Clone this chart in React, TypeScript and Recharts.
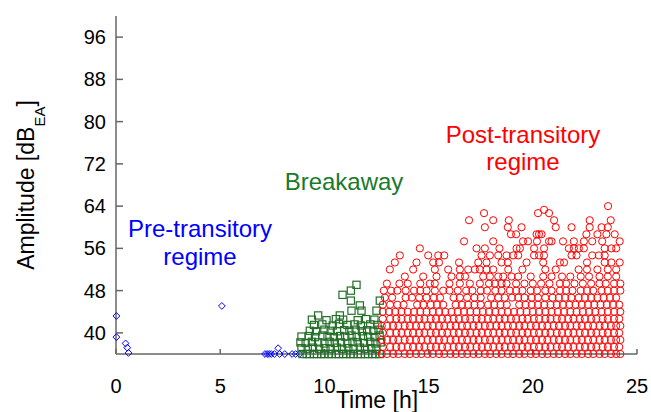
import { ScatterChart, Scatter, XAxis, YAxis } from 'recharts'

const xTicks = [0, 5, 10, 15, 20, 25]
const yTicks = [40, 48, 56, 64, 72, 80, 88, 96]

// Pre-transitory regime: [time h, amplitude dB]
const preTransitory = [
  [0.02, 43.2], [0.02, 39.2], [0.46, 38.0], [0.54, 37.2], [0.6, 36.2], [5.08, 45.1],
  [7.15, 36], [7.25, 36], [7.35, 36], [7.45, 36], [7.6, 36], [7.78, 37.1], [7.85, 36],
  [8.1, 36], [8.45, 36], [8.62, 36], [8.8, 36],
]

// Breakaway: [time h, amplitude dB]
const breakaway = [
  [8.95, 36], [9.15, 36], [9.3, 36], [9.5, 36], [9.65, 36], [9.85, 36], [10.0, 36], [10.2, 36],
  [10.35, 36], [10.55, 36], [10.7, 36], [10.9, 36], [11.05, 36], [11.25, 36], [11.4, 36], [11.6, 36],
  [11.75, 36], [11.95, 36], [12.1, 36], [12.3, 36], [12.45, 36], [12.65, 36],
  [8.9, 37.1], [9.2, 37.0], [9.45, 37.2], [9.75, 37.0], [10.05, 37.1], [10.3, 37.0], [10.6, 37.2],
  [10.85, 37.0], [11.15, 37.1], [11.4, 37.0], [11.7, 37.2], [11.95, 37.0], [12.25, 37.1], [12.5, 37.0],
  [8.85, 38.2], [9.1, 38.1], [9.4, 38.3], [9.7, 38.2], [10.0, 38.0], [10.25, 38.3], [10.5, 38.1],
  [10.8, 38.2], [11.1, 38.0], [11.35, 38.3], [11.6, 38.2], [11.9, 38.1], [12.2, 38.3], [12.45, 38.0], [12.7, 38.2],
  [8.9, 39.3], [9.25, 39.4], [9.55, 39.2], [9.9, 39.5], [10.15, 39.3], [10.45, 39.2], [10.75, 39.4],
  [11.0, 39.3], [11.3, 39.5], [11.55, 39.2], [11.85, 39.4], [12.1, 39.3], [12.4, 39.2], [12.65, 39.5],
  [9.3, 40.4], [9.6, 40.3], [10.0, 40.6], [10.3, 40.4], [10.6, 40.3], [10.95, 40.5], [11.2, 40.4],
  [11.5, 40.6], [11.8, 40.3], [12.05, 40.5], [12.35, 40.4], [12.6, 40.6],
  [9.5, 41.5], [9.9, 41.6], [10.4, 41.4], [10.7, 41.7], [11.1, 41.5], [11.45, 41.6], [11.75, 41.4],
  [12.2, 41.6], [12.55, 41.5],
  [9.4, 42.5], [10.1, 42.4], [10.55, 42.6], [10.9, 42.5], [11.6, 42.4], [12.0, 42.6], [12.4, 42.5],
  [9.7, 43.3], [10.74, 43.3], [11.3, 44.2], [11.78, 44.2], [12.5, 44.2], [11.7, 45.2],
  [11.27, 46.1], [12.66, 46.1], [10.87, 47.2], [11.27, 48.0], [11.54, 49.1],
]

// Post-transitory regime: amplitude levels and the times recorded at each level
const postLevels = [
  36, 37.33, 38.67, 40, 41.33, 42.67, 44, 45.33, 46.67, 48, 49.33, 50.67, 52, 53.33, 54.67,
  56, 57.33, 58.67, 60, 61.33, 62.67, 63.3, 64,
]
const denseRowA = [12.75, 13.0, 13.3, 13.55, 13.85, 14.1, 14.4, 14.65, 14.95, 15.2, 15.5, 15.75, 16.05, 16.3, 16.6, 16.85, 17.15, 17.4, 17.7, 17.95, 18.25, 18.5, 18.8, 19.05, 19.35, 19.6, 19.9, 20.15, 20.45, 20.7, 21.0, 21.25, 21.55, 21.8, 22.1, 22.35, 22.65, 22.9, 23.2, 23.45, 23.75, 24.0, 24.2]
const denseRowB = [12.8, 13.15, 13.45, 13.7, 14.0, 14.25, 14.55, 14.8, 15.1, 15.35, 15.65, 15.9, 16.2, 16.45, 16.75, 17.0, 17.3, 17.55, 17.85, 18.1, 18.4, 18.65, 18.95, 19.2, 19.5, 19.75, 20.05, 20.3, 20.6, 20.85, 21.15, 21.4, 21.7, 21.95, 22.25, 22.5, 22.8, 23.05, 23.35, 23.6, 23.9, 24.15]
const postTimes = [
  denseRowA,
  denseRowB,
  denseRowA,
  denseRowB,
  denseRowA,
  denseRowB,
  [12.8, 13.1, 13.4, 13.7, 14.0, 14.3, 14.6, 14.9, 15.2, 15.5, 15.8, 16.1, 16.4, 16.7, 17.0, 17.3, 17.6, 17.9, 18.2, 18.5, 18.8, 19.1, 19.4, 19.7, 20.0, 20.3, 20.6, 20.9, 21.2, 21.5, 21.8, 22.1, 22.4, 22.7, 23.0, 23.3, 23.6, 23.9, 24.2],
  [12.8, 13.15, 13.5, 13.8, 14.45, 14.75, 15.1, 15.4, 15.7, 16.3, 16.6, 16.9, 17.2, 17.5, 17.85, 18.15, 18.45, 18.75, 19.35, 19.65, 19.95, 20.25, 20.55, 20.85, 21.15, 21.45, 21.75, 22.05, 22.35, 22.65, 22.95, 23.25, 23.55, 23.85, 24.15],
  [12.9, 13.25, 13.9, 14.2, 14.55, 14.9, 15.25, 15.55, 16.2, 16.5, 16.85, 17.2, 17.5, 18.0, 18.35, 18.65, 19.0, 19.3, 19.6, 19.95, 20.25, 20.6, 20.95, 21.25, 21.55, 21.85, 22.2, 22.5, 22.8, 23.1, 23.4, 23.7, 24.0],
  [12.85, 13.2, 13.5, 13.9, 14.3, 14.6, 14.9, 15.3, 15.7, 16.0, 16.4, 16.8, 17.1, 17.5, 17.8, 18.2, 18.5, 18.9, 19.2, 19.5, 19.9, 20.2, 20.6, 20.9, 21.3, 21.6, 21.9, 22.3, 22.6, 22.9, 23.3, 23.6, 23.9, 24.2],
  [13.0, 13.6, 14.0, 14.6, 15.06, 15.3, 16.0, 16.5, 16.98, 17.46, 17.9, 18.18, 18.5, 18.74, 19.2, 19.6, 20.0, 20.4, 20.8, 21.3, 21.6, 22.0, 22.4, 22.8, 23.2, 23.5, 23.9, 24.2],
  [13.86, 14.74, 15.38, 16.1, 16.5, 16.75, 17.62, 17.94, 18.34, 18.58, 18.98, 19.3, 19.9, 20.5, 20.9, 21.4, 21.8, 22.3, 22.7, 23.2, 23.6, 24.0],
  [13.14, 14.26, 15.3, 15.94, 16.5, 16.9, 17.22, 17.46, 17.78, 18.1, 18.82, 19.5, 20.6, 21.1, 22.2, 22.6, 23.1, 23.6, 24.0],
  [13.38, 14.42, 15.22, 15.5, 16.46, 17.38, 17.78, 18.5, 18.8, 19.7, 20.5, 21.3, 21.5, 22.6, 23.45, 23.77, 24.17],
  [13.62, 14.98, 15.46, 15.75, 17.54, 17.94, 18.34, 18.74, 19.06, 19.3, 20.06, 20.3, 20.54, 21.86, 22.1, 22.85, 23.17, 23.45],
  [14.58, 17.3, 17.7, 18.4, 19.22, 19.38, 20.06, 20.54, 21.73, 21.97, 22.21, 22.45, 23.45, 23.77, 24.0],
  [16.7, 18.1, 19.53, 19.77, 20.2, 20.78, 20.9, 21.45, 21.97, 22.45, 22.85, 23.33, 24.17],
  [18.95, 19.2, 20.18, 20.3, 20.42, 22.57, 23.1, 23.53, 23.93],
  [17.7, 18.8, 19.46, 21.1, 21.86, 22.73, 23.3, 23.6],
  [16.94, 18.1, 18.85, 21.02, 22.73, 23.74],
  [17.66, 20.25, 20.78],
  [20.54],
  [23.61],
]

const preData = preTransitory.map(([t, a]) => ({ t, a }))
const breakData = breakaway.map(([t, a]) => ({ t, a }))
const postData = postTimes.flatMap((times, i) => times.map(t => ({ t, a: postLevels[i] })))

const font = '"Liberation Sans", Arial, sans-serif'

function Diamond(props: any) {
  const { cx, cy } = props
  const s = 3.4
  return (
    <path
      d={`M${cx},${cy - s}L${cx + s},${cy}L${cx},${cy + s}L${cx - s},${cy}Z`}
      fill="none"
      stroke="#0000ff"
      strokeWidth={1}
    />
  )
}

function Square(props: any) {
  const { cx, cy } = props
  return <rect x={cx - 3.6} y={cy - 3.6} width={7.2} height={7.2} fill="none" stroke="#236f28" strokeWidth={1.2} />
}

function Circle(props: any) {
  const { cx, cy } = props
  return <circle cx={cx} cy={cy} r={3.6} fill="none" stroke="#ff0000" strokeWidth={1} />
}

export default function App() {
  return (
    <div style={{ position: 'absolute', left: 0, top: 0, width: 651, height: 412, background: '#fff' }}>
      <ScatterChart width={651} height={412} margin={{ top: 16, right: 14, bottom: 28, left: 56 }}>
        <XAxis
          type="number"
          dataKey="t"
          domain={[0, 25]}
          ticks={xTicks}
          tickSize={-5}
          tickMargin={30}
          axisLine={{ stroke: '#666', strokeWidth: 1.5 }}
          tickLine={{ stroke: '#666', strokeWidth: 1.5 }}
          tick={{ fill: '#000', fontSize: 20, fontFamily: font }}
          height={30}
        />
        <YAxis
          type="number"
          dataKey="a"
          domain={[36, 100]}
          ticks={yTicks}
          tickSize={-7}
          tickMargin={17}
          axisLine={{ stroke: '#666', strokeWidth: 1.5 }}
          tickLine={{ stroke: '#666', strokeWidth: 1.5 }}
          tick={{ fill: '#000', fontSize: 20, fontFamily: font }}
          width={60}
        />
        <Scatter data={preData} shape={Diamond} isAnimationActive={false} />
        <Scatter data={breakData} shape={Square} isAnimationActive={false} />
        <Scatter data={postData} shape={Circle} isAnimationActive={false} />

        <text x={377} y={408} textAnchor="middle" fontSize={23} fontFamily={font} fill="#000">
          Time [h]
        </text>
        <text transform="rotate(-90)" x={-185} y={34} textAnchor="middle" fontSize={23} fontFamily={font} fill="#000">
          Amplitude [dB
          <tspan fontSize={15} dy={11}>EA</tspan>
          <tspan dy={-11}>]</tspan>
        </text>

        <text x={200} y={237} textAnchor="middle" fontSize={24} fontFamily={font} fill="#0000ff">
          Pre-transitory
        </text>
        <text x={200} y={265} textAnchor="middle" fontSize={24} fontFamily={font} fill="#0000ff">
          regime
        </text>
        <text x={344} y={190} textAnchor="middle" fontSize={24} fontFamily={font} fill="#1a7a2a">
          Breakaway
        </text>
        <text x={523} y={143} textAnchor="middle" fontSize={24} fontFamily={font} fill="#ff0000">
          Post-transitory
        </text>
        <text x={523} y={170} textAnchor="middle" fontSize={24} fontFamily={font} fill="#ff0000">
          regime
        </text>
      </ScatterChart>
    </div>
  )
}
